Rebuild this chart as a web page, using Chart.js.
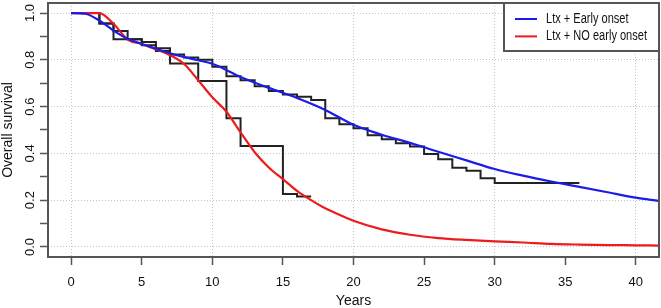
<!DOCTYPE html>
<html>
<head>
<meta charset="utf-8">
<script src="https://cdn.jsdelivr.net/npm/chart.js@4.4.1/dist/chart.umd.min.js"></script>
<style>
  html, body { margin: 0; padding: 0; background: #fff; }
  #wrap { width: 661px; height: 308px; }
</style>
</head>
<body>
<div id="wrap"><canvas id="survival_chart"></canvas></div>
<script>
// fitted survival curves
const earlyYears = [0, 1, 2, 3, 4, 5, 6, 7, 8, 9, 10, 12, 14, 16, 18, 20, 22, 24, 26, 28, 30, 32, 34, 36, 38, 40, 41.6];
const earlySurv  = [1.0, 0.997, 0.968, 0.925, 0.89, 0.868, 0.848, 0.828, 0.812, 0.798, 0.783, 0.727, 0.68, 0.637, 0.586, 0.522, 0.48, 0.445, 0.407, 0.37, 0.333, 0.305, 0.28, 0.257, 0.234, 0.211, 0.197];
const noEarlyYears = [0, 2, 3, 4, 5, 6, 7, 8, 9, 10, 11, 12, 13, 14, 15, 16, 17, 18, 19, 20, 22, 24, 26, 28, 30, 32, 34, 36, 38, 40, 41.6];
const noEarlySurv  = [1.0, 1.0, 0.954, 0.887, 0.868, 0.845, 0.82, 0.782, 0.713, 0.64, 0.578, 0.49, 0.405, 0.34, 0.29, 0.24, 0.2, 0.165, 0.138, 0.112, 0.075, 0.052, 0.038, 0.03, 0.024, 0.019, 0.013, 0.01, 0.008, 0.007, 0.006];

// Kaplan-Meier steps
const kmEarlyYears = [0, 2, 3, 4, 5, 6, 7, 8, 9, 10, 11, 12, 13, 14, 15, 16, 17, 18, 19, 20, 21, 22, 23, 24, 25, 26, 27, 28, 29, 30, 36];
const kmEarlySurv  = [1.0, 0.955, 0.923, 0.888, 0.876, 0.85, 0.823, 0.81, 0.8, 0.77, 0.73, 0.713, 0.687, 0.667, 0.652, 0.642, 0.628, 0.55, 0.525, 0.507, 0.478, 0.46, 0.443, 0.429, 0.397, 0.375, 0.339, 0.326, 0.294, 0.273, 0.273];
const kmNoEarlyYears = [0, 2, 3, 5, 6, 7, 9, 11, 12, 15, 16, 17];
const kmNoEarlySurv  = [1.0, 0.955, 0.888, 0.862, 0.838, 0.784, 0.709, 0.55, 0.432, 0.226, 0.216, 0.216];

const xTicks = [0, 5, 10, 15, 20, 25, 30, 35, 40];
const xGrid = [0, 10, 20, 30, 40];
const yTicks = [0, 0.1, 0.2, 0.3, 0.4, 0.5, 0.6, 0.7, 0.8, 0.9, 1.0];
const yTickLabels = ['0.0', '', '0.2', '', '0.4', '', '0.6', '', '0.8', '', '1.0'];

const labels = ['Ltx + Early onset', 'Ltx + NO early onset'];

const toPoints = (xs, ys) => xs.map((x, i) => ({ x: x, y: ys[i] }));
const FONT = "'Liberation Sans', Arial, sans-serif";

Chart.defaults.font.family = FONT;
Chart.defaults.font.size = 13;
Chart.defaults.color = '#111';

const boxPlugin = {
  id: 'boxAndLegend',
  afterDraw(chart) {
    const { ctx, chartArea } = chart;
    ctx.save();
    ctx.strokeStyle = '#555';
    ctx.lineWidth = 2;
    ctx.strokeRect(chartArea.left, chartArea.top, chartArea.right - chartArea.left, chartArea.bottom - chartArea.top);

    // legend box, top right
    const lx = chartArea.right - 155, ly = chartArea.top, lw = 155, lh = 48;
    ctx.fillStyle = '#fff';
    ctx.fillRect(lx, ly, lw, lh);
    ctx.strokeRect(lx, ly, lw, lh);
    const items = chart.data.datasets.filter(d => d.legend);
    ctx.font = '14px ' + FONT;
    const squeeze = 101 / ctx.measureText(items[items.length - 1].label).width;
    items.forEach((d, i) => {
      const y = ly + 16 + i * 17.4;
      ctx.strokeStyle = d.borderColor;
      ctx.lineWidth = 2;
      ctx.beginPath();
      ctx.moveTo(lx + 11, y);
      ctx.lineTo(lx + 33, y);
      ctx.stroke();
      ctx.save();
      ctx.translate(lx + 42, y);
      ctx.scale(squeeze, 1);
      ctx.fillStyle = '#111';
      ctx.textBaseline = 'middle';
      ctx.textAlign = 'left';
      ctx.fillText(d.label, 0, 0);
      ctx.restore();
    });
    ctx.restore();
  }
};

const data = {
  datasets: [
    {
      label: labels[0],
      legend: true,
      data: toPoints(earlyYears, earlySurv),
      borderColor: '#1c1ce8',
      borderWidth: 2.2,
      cubicInterpolationMode: 'monotone',
      pointRadius: 0,
      order: 1
    },
    {
      label: labels[1],
      legend: true,
      data: toPoints(noEarlyYears, noEarlySurv),
      borderColor: '#ec1c1c',
      borderWidth: 2.2,
      cubicInterpolationMode: 'monotone',
      pointRadius: 0,
      order: 2
    },
    {
      label: 'KM early',
      data: toPoints(kmEarlyYears, kmEarlySurv),
      borderColor: '#222',
      borderWidth: 2,
      stepped: true,
      pointRadius: 0,
      order: 3
    },
    {
      label: 'KM no early',
      data: toPoints(kmNoEarlyYears, kmNoEarlySurv),
      borderColor: '#222',
      borderWidth: 2,
      stepped: true,
      pointRadius: 0,
      order: 4
    }
  ]
};

const config = {
  type: 'line',
  data: data,
  options: {
    responsive: true,
    maintainAspectRatio: false,
    animation: false,
    layout: { padding: { top: 3, right: 2, left: 0, bottom: 0 } },
    plugins: {
      legend: { display: false },
      tooltip: { enabled: false }
    },
    scales: {
      x: {
        type: 'linear',
        min: -1.64,
        max: 41.64,
        afterBuildTicks: (scale) => { scale.ticks = xTicks.map(v => ({ value: v })); },
        afterFit: (scale) => { scale.height = 51; scale.paddingLeft = 0; scale.paddingRight = 0; },
        grid: {
          color: (c) => xGrid.includes(c.tick && c.tick.value) ? '#c4c4c4' : 'rgba(0,0,0,0)',
          tickColor: '#555',
          tickWidth: 1.5,
          tickLength: 8
        },
        border: { display: false, dash: [1, 2] },
        ticks: { padding: 10, color: '#111', maxRotation: 0, callback: (v) => String(v) },
        title: { display: true, text: 'Years', font: { size: 14 }, padding: { top: 0, bottom: -2 }, color: '#111' }
      },
      y: {
        type: 'linear',
        min: -0.043,
        max: 1.043,
        afterBuildTicks: (scale) => { scale.ticks = yTicks.map(v => ({ value: v })); },
        afterFit: (scale) => { scale.width = 48; scale.paddingTop = 0; scale.paddingBottom = 0; },
        grid: {
          color: (c) => (c.tick && yTickLabels[yTicks.indexOf(c.tick.value)] !== '' && yTicks.includes(c.tick.value)) ? '#c4c4c4' : 'rgba(0,0,0,0)',
          tickColor: '#555',
          tickWidth: 1.5,
          tickLength: 8
        },
        border: { display: false, dash: [1, 2] },
        ticks: {
          padding: 1,
          color: '#111',
          minRotation: 90,
          maxRotation: 90,
          crossAlign: 'center',
          callback: (v, i) => yTickLabels[i]
        },
        title: { display: true, text: 'Overall survival', font: { size: 14 }, padding: 0, color: '#111' }
      }
    }
  },
  plugins: [boxPlugin]
};

new Chart(document.getElementById('survival_chart'), config);
</script>
</body>
</html>
